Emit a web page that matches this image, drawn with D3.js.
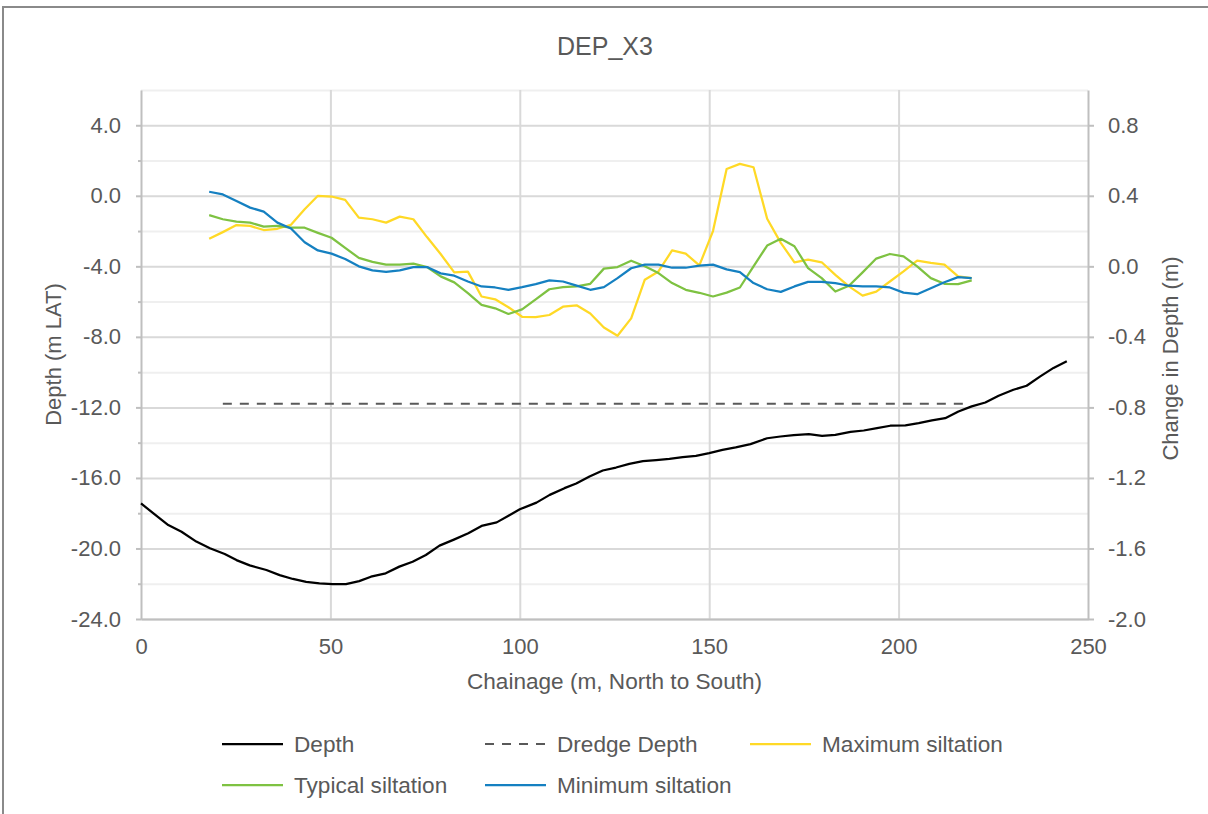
<!DOCTYPE html>
<html>
<head>
<meta charset="utf-8">
<script src="https://cdn.jsdelivr.net/npm/d3@7"></script>
<style>
  html, body { margin: 0; padding: 0; background: #fff; }
  svg { display: block; font-family: "Liberation Sans", Arial, Helvetica, sans-serif; }
</style>
</head>
<body>
<svg id="chart" width="1208" height="814"></svg>
<script>
// ---------------- DATA ----------------
const chartTitle = "DEP_X3";
const xAxisTitle = "Chainage (m, North to South)";
const yLeftTitle = "Depth (m LAT)";
const yRightTitle = "Change in Depth (m)";

const seriesNames = ["Depth", "Dredge Depth", "Maximum siltation", "Typical siltation", "Minimum siltation"];

// chainage (m) of the siltation samples
const siltChainage = [18.0, 21.6, 25.2, 28.8, 32.4, 36.0, 39.6, 43.2, 46.7, 50.3,
  53.9, 57.5, 61.1, 64.7, 68.3, 71.9, 75.5, 79.1, 82.7, 86.3,
  89.9, 93.5, 97.0, 100.6, 104.2, 107.8, 111.4, 115.0, 118.6, 122.2,
  125.8, 129.4, 133.0, 136.6, 140.2, 143.8, 147.4, 151.0, 154.6, 158.1,
  161.7, 165.3, 168.9, 172.5, 176.1, 179.7, 183.3, 186.9, 190.5, 194.1,
  197.7, 201.3, 204.9, 208.5, 212.1, 215.7, 219.3];

// change in depth (m) – right axis
const maxSiltation = [0.156, 0.194, 0.234, 0.229, 0.206, 0.213, 0.236, 0.324, 0.400, 0.396,
  0.377, 0.276, 0.267, 0.248, 0.282, 0.267, 0.166, 0.070, -0.034, -0.030,
  -0.171, -0.187, -0.232, -0.286, -0.288, -0.276, -0.229, -0.221, -0.267, -0.347,
  -0.394, -0.295, -0.076, -0.029, 0.090, 0.072, 0.005, 0.200, 0.552, 0.581,
  0.562, 0.270, 0.133, 0.023, 0.038, 0.023, -0.048, -0.114, -0.166, -0.143,
  -0.086, -0.029, 0.032, 0.019, 0.010, -0.057, -0.067];

const typicalSiltation = [0.290, 0.267, 0.253, 0.248, 0.225, 0.229, 0.219, 0.219, 0.190, 0.162,
  0.105, 0.048, 0.025, 0.010, 0.010, 0.015, -0.004, -0.057, -0.091, -0.152,
  -0.219, -0.238, -0.270, -0.244, -0.187, -0.130, -0.118, -0.114, -0.099, -0.013,
  -0.004, 0.032, 0.000, -0.038, -0.095, -0.133, -0.150, -0.171, -0.149, -0.120,
  0.000, 0.118, 0.156, 0.114, -0.010, -0.067, -0.143, -0.110, -0.034, 0.044,
  0.070, 0.057, 0.000, -0.067, -0.099, -0.101, -0.080];

const minSiltation = [0.423, 0.408, 0.370, 0.333, 0.310, 0.248, 0.215, 0.137, 0.090, 0.072,
  0.042, 0.000, -0.023, -0.032, -0.023, -0.004, -0.004, -0.040, -0.053, -0.086,
  -0.114, -0.120, -0.133, -0.118, -0.101, -0.080, -0.086, -0.109, -0.133, -0.118,
  -0.067, -0.011, 0.010, 0.010, -0.008, -0.008, 0.004, 0.010, -0.017, -0.033,
  -0.095, -0.130, -0.145, -0.114, -0.088, -0.088, -0.095, -0.110, -0.114, -0.114,
  -0.120, -0.149, -0.158, -0.124, -0.090, -0.061, -0.067];

// bed profile – left axis
const depthChainage = [0, 3.2, 7.2, 10.7, 14.6, 18.2, 22.1, 25.2, 28.7, 33.1,
  36.6, 40.1, 43.6, 47.1, 50.6, 54.1, 57.6, 60.7, 64.6, 68.2,
  71.7, 75.2, 78.8, 82.6, 86.4, 89.9, 93.9, 96.9, 100.0, 104.4,
  107.9, 111.8, 114.9, 118.4, 121.9, 125.4, 128.9, 132.5, 136.0, 139.5,
  143.0, 146.5, 150.0, 153.5, 157.0, 160.9, 165.3, 168.8, 172.3, 176.3,
  179.8, 183.3, 187.3, 190.8, 194.3, 197.8, 201.8, 205.3, 208.8, 212.3,
  215.8, 219.3, 222.9, 226.4, 230.3, 233.8, 237.4, 240.9, 244.4];
const depthValues = [-17.44, -18.00, -18.67, -19.05, -19.61, -19.99, -20.31, -20.66, -20.96, -21.22,
  -21.51, -21.73, -21.89, -21.98, -22.02, -22.02, -21.85, -21.60, -21.41, -21.03,
  -20.75, -20.37, -19.84, -19.50, -19.14, -18.72, -18.52, -18.16, -17.78, -17.40,
  -16.96, -16.58, -16.32, -15.92, -15.58, -15.41, -15.20, -15.05, -14.99, -14.92,
  -14.82, -14.75, -14.59, -14.41, -14.27, -14.08, -13.75, -13.65, -13.57, -13.52,
  -13.61, -13.56, -13.39, -13.31, -13.18, -13.04, -13.02, -12.89, -12.74, -12.61,
  -12.23, -11.94, -11.72, -11.34, -11.00, -10.77, -10.24, -9.76, -9.38];

const dredgeChainage = [21.6, 218.5];
const dredgeDepth = [-11.8, -11.8];

// axes
const xDomain = [0, 250];
const xTicks = [0, 50, 100, 150, 200, 250];
const xGridTicks = [50, 100, 150, 200];
const yLeftDomain = [-24, 6];
const yLeftTicks = [-24, -20, -16, -12, -8, -4, 0, 4];
const yLeftMinor = [-22, -18, -14, -10, -6, -2, 2, 6];
const yRightDomain = [-2.0, 1.0];
const yRightTicks = [-2.0, -1.6, -1.2, -0.8, -0.4, 0.0, 0.4, 0.8];

// ---------------- STYLE / LAYOUT ----------------
const W = 1208, H = 814;
const P = { left: 141, right: 1088, top: 90, bottom: 619 };
const TEXT = "#595959";
const FONT = '"Liberation Sans", Arial, Helvetica, sans-serif';
const styles = {
  "Depth": { color: "#000000", width: 2.25, dash: null },
  "Dredge Depth": { color: "#595959", width: 2, dash: "9,8" },
  "Maximum siltation": { color: "#FFD926", width: 2.25, dash: null },
  "Typical siltation": { color: "#7EC242", width: 2.25, dash: null },
  "Minimum siltation": { color: "#1580C1", width: 2.25, dash: null }
};

// ---------------- CHART ----------------
const svg = d3.select("#chart");
svg.append("rect").attr("width", W).attr("height", H).attr("fill", "#ffffff");

// outer frame (top and left edges visible)
svg.append("path")
  .attr("d", `M3,${H} V7 H${W}`)
  .attr("fill", "none").attr("stroke", "#8a8a8a").attr("stroke-width", 2);

const x = d3.scaleLinear().domain(xDomain).range([P.left, P.right]);
const yL = d3.scaleLinear().domain(yLeftDomain).range([P.bottom, P.top]);
const yR = d3.scaleLinear().domain(yRightDomain).range([P.bottom, P.top]);
const plotW = P.right - P.left, plotH = P.bottom - P.top;

function styleGrid(g, color) {
  g.select(".domain").remove();
  g.selectAll(".tick line").attr("stroke", color).attr("stroke-width", 2);
  g.selectAll(".tick text").remove();
}

// minor horizontal grid
svg.append("g").attr("transform", `translate(${P.left},0)`)
  .call(d3.axisLeft(yL).tickValues(yLeftMinor).tickSize(-plotW).tickFormat(""))
  .call(g => styleGrid(g, "#efefef"));
// major horizontal grid
svg.append("g").attr("transform", `translate(${P.left},0)`)
  .call(d3.axisLeft(yL).tickValues(yLeftTicks).tickSize(-plotW).tickFormat(""))
  .call(g => styleGrid(g, "#d9d9d9"));
// vertical grid
svg.append("g").attr("transform", `translate(0,${P.bottom})`)
  .call(d3.axisBottom(x).tickValues(xGridTicks).tickSize(-plotH).tickFormat(""))
  .call(g => styleGrid(g, "#d9d9d9"));

const fmt1 = d => (Math.abs(d) < 1e-9 ? 0 : d).toFixed(1);

function styleAxis(g, size) {
  g.attr("font-family", FONT).attr("font-size", size);
  g.select(".domain").attr("stroke", "#bfbfbf").attr("stroke-width", 2);
  g.selectAll(".tick line").attr("stroke", "#bfbfbf").attr("stroke-width", 2);
  g.selectAll(".tick text").attr("fill", TEXT);
}

// left minor ticks
svg.append("g").attr("transform", `translate(${P.left},0)`)
  .call(d3.axisLeft(yL).tickValues(yLeftMinor.filter(v => v < 6)).tickSize(3).tickFormat(""))
  .call(g => { g.select(".domain").remove(); g.selectAll(".tick line").attr("stroke", "#bfbfbf").attr("stroke-width", 2); });

// bottom axis
svg.append("g").attr("transform", `translate(0,${P.bottom})`)
  .call(d3.axisBottom(x).tickValues(xTicks).tickSize(0).tickSizeOuter(0).tickPadding(19).tickFormat(d3.format("d")))
  .call(g => styleAxis(g, 22));

// left axis
svg.append("g").attr("transform", `translate(${P.left},0)`)
  .call(d3.axisLeft(yL).tickValues(yLeftTicks).tickSize(5).tickSizeOuter(0).tickPadding(15).tickFormat(fmt1))
  .call(g => styleAxis(g, 22));

// right axis
svg.append("g").attr("transform", `translate(${P.right},0)`)
  .call(d3.axisRight(yR).tickValues(yRightTicks).tickSize(6).tickSizeOuter(0).tickPadding(14).tickFormat(fmt1))
  .call(g => styleAxis(g, 22));

// ---------------- SERIES ----------------
const lineL = d3.line().x(d => x(d.c)).y(d => yL(d.v));
const lineR = d3.line().x(d => x(d.c)).y(d => yR(d.v));
const zip = (cs, vs) => cs.map((c, i) => ({ c, v: vs[i] }));

const seriesData = [
  { name: "Dredge Depth", line: lineL, data: zip(dredgeChainage, dredgeDepth) },
  { name: "Depth", line: lineL, data: zip(depthChainage, depthValues) },
  { name: "Maximum siltation", line: lineR, data: zip(siltChainage, maxSiltation) },
  { name: "Typical siltation", line: lineR, data: zip(siltChainage, typicalSiltation) },
  { name: "Minimum siltation", line: lineR, data: zip(siltChainage, minSiltation) }
];

svg.append("g").selectAll("path.series")
  .data(seriesData)
  .join("path")
  .attr("class", "series")
  .attr("d", s => s.line(s.data))
  .attr("fill", "none")
  .attr("stroke", s => styles[s.name].color)
  .attr("stroke-width", s => styles[s.name].width)
  .attr("stroke-dasharray", s => styles[s.name].dash)
  .attr("stroke-linejoin", "round");

// ---------------- TEXT ----------------
svg.append("text")
  .attr("x", 605).attr("y", 55)
  .attr("text-anchor", "middle")
  .attr("font-family", FONT).attr("font-size", 25)
  .attr("fill", TEXT)
  .text(chartTitle);

svg.append("text")
  .attr("x", (P.left + P.right) / 2).attr("y", 689)
  .attr("text-anchor", "middle")
  .attr("font-family", FONT).attr("font-size", 22.6)
  .attr("fill", TEXT)
  .text(xAxisTitle);

svg.append("text")
  .attr("transform", `translate(61,${(P.top + P.bottom) / 2}) rotate(-90)`)
  .attr("text-anchor", "middle")
  .attr("font-family", FONT).attr("font-size", 22)
  .attr("fill", TEXT)
  .text(yLeftTitle);

svg.append("text")
  .attr("transform", `translate(1178,${(P.top + P.bottom) / 2 + 4}) rotate(-90)`)
  .attr("text-anchor", "middle")
  .attr("font-family", FONT).attr("font-size", 22)
  .attr("fill", TEXT)
  .text(yRightTitle);

// ---------------- LEGEND ----------------
const legendCols = [222, 485, 750];
const legendRows = [744, 785];
const legend = svg.append("g").selectAll("g")
  .data(seriesNames)
  .join("g")
  .attr("transform", (d, i) => `translate(${legendCols[i % 3]},${legendRows[Math.floor(i / 3)]})`);

legend.append("line")
  .attr("x1", 0).attr("x2", 61).attr("y1", 0).attr("y2", 0)
  .attr("stroke", d => styles[d].color)
  .attr("stroke-width", d => styles[d].width)
  .attr("stroke-dasharray", d => styles[d].dash);

legend.append("text")
  .attr("x", 72).attr("y", 0).attr("dy", "0.35em")
  .attr("font-family", FONT).attr("font-size", 22.6)
  .attr("fill", TEXT)
  .text(d => d);
</script>
</body>
</html>
